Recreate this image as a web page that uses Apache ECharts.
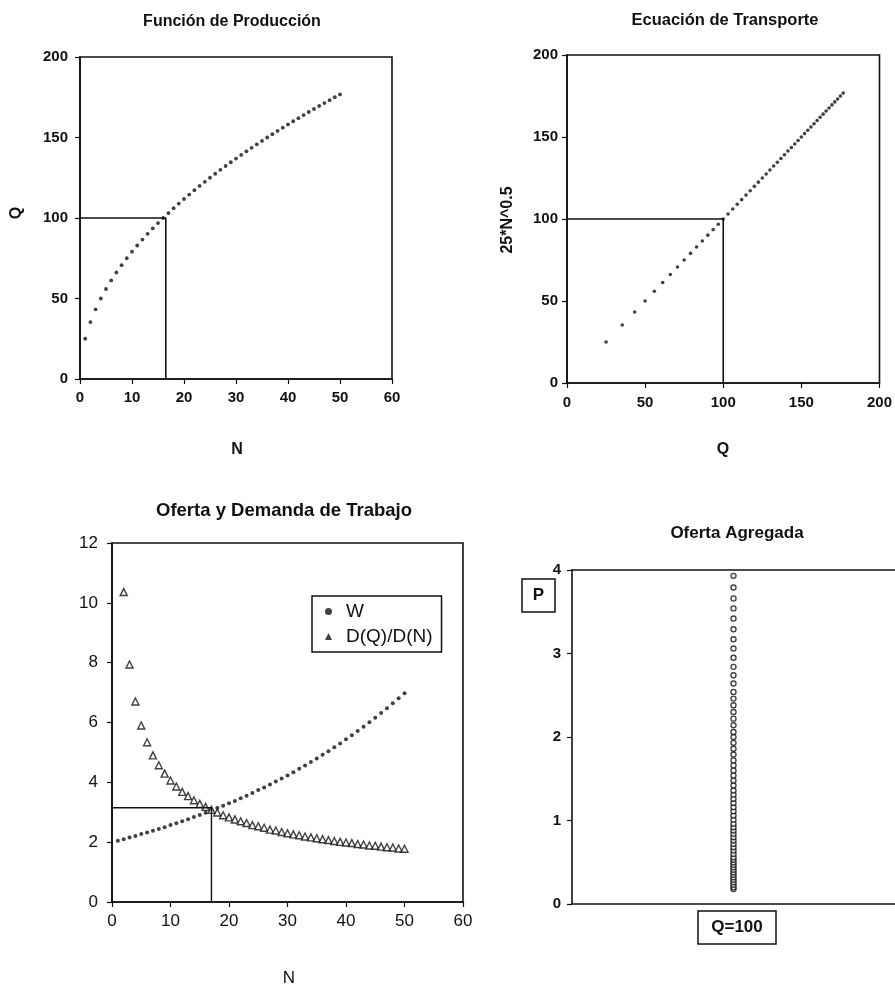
<!DOCTYPE html>
<html>
<head>
<meta charset="utf-8">
<script src="https://cdn.jsdelivr.net/npm/echarts@6/dist/echarts.min.js"></script>
<style>
html,body{margin:0;padding:0;background:#fff;}
#chart{width:895px;height:987px;}
</style>
</head>
<body>
<div id="chart"></div>
<script>
// ---- data ----
const nVals = [1,2,3,4,5,6,7,8,9,10,11,12,13,14,15,16,17,18,19,20,21,22,23,24,25,26,27,28,29,30,31,32,33,34,35,36,37,38,39,40,41,42,43,44,45,46,47,48,49,50];
const qVals = [25,35.36,43.3,50,55.9,61.24,66.14,70.71,75,79.06,82.92,86.6,90.14,93.54,96.82,100,103.08,106.07,108.97,111.8,114.56,117.26,119.9,122.47,125,127.48,129.9,132.29,134.63,136.93,139.19,141.42,143.61,145.77,147.9,150,152.07,154.11,156.12,158.11,160.08,162.02,163.94,165.83,167.71,169.56,171.39,173.21,175,176.78];
const transpVals = [25,35.36,43.3,50,55.9,61.24,66.14,70.71,75,79.06,82.92,86.6,90.14,93.54,96.82,100,103.08,106.07,108.97,111.8,114.56,117.26,119.9,122.47,125,127.48,129.9,132.29,134.63,136.93,139.19,141.42,143.61,145.77,147.9,150,152.07,154.11,156.12,158.11,160.08,162.02,163.94,165.83,167.71,169.56,171.39,173.21,175,176.78];
const wVals = [2.05,2.1,2.16,2.21,2.27,2.32,2.38,2.44,2.5,2.57,2.63,2.7,2.77,2.84,2.91,2.98,3.06,3.14,3.22,3.3,3.38,3.47,3.55,3.64,3.74,3.83,3.93,4.03,4.13,4.23,4.34,4.45,4.56,4.68,4.8,4.92,5.04,5.17,5.3,5.44,5.57,5.72,5.86,6.01,6.16,6.32,6.48,6.64,6.81,6.98];
const mpnN = [2,3,4,5,6,7,8,9,10,11,12,13,14,15,16,17,18,19,20,21,22,23,24,25,26,27,28,29,30,31,32,33,34,35,36,37,38,39,40,41,42,43,44,45,46,47,48,49,50];
const mpnVals = [10.36,7.94,6.7,5.9,5.34,4.9,4.57,4.29,4.06,3.86,3.68,3.54,3.4,3.28,3.18,3.08,2.99,2.9,2.83,2.76,2.7,2.64,2.57,2.53,2.48,2.42,2.39,2.34,2.3,2.26,2.23,2.19,2.16,2.13,2.1,2.07,2.04,2.01,1.99,1.97,1.94,1.92,1.89,1.88,1.85,1.83,1.82,1.79,1.78];
const pVals = [0.18,0.20,0.23,0.26,0.29,0.32,0.35,0.38,0.41,0.44,0.47,0.50,0.53,0.56,0.60,0.64,0.68,0.72,0.76,0.80,0.84,0.88,0.92,0.96,1.01,1.06,1.11,1.16,1.21,1.26,1.31,1.36,1.42,1.48,1.54,1.60,1.66,1.72,1.79,1.86,1.93,2.00,2.06,2.14,2.22,2.30,2.38,2.46,2.54,2.64,2.74,2.84,2.95,3.06,3.17,3.29,3.42,3.54,3.66,3.79,3.93];
const aggQ = 100;
const ref1 = [[0,100],[16.5,100],[16.5,0]];
const ref2 = [[0,100],[100,100],[100,0]];
const ref3 = [[0,3.15],[17,3.15],[17,0]];

const titles = ['Función de Producción','Ecuación de Transporte','Oferta y Demanda de Trabajo','Oferta Agregada'];
const legendNames = ['W','D(Q)/D(N)'];

// ---- styling ----
const FONT = "'Liberation Sans', Arial, Helvetica, sans-serif";
const INK = '#111';

function axis(gridIndex, min, max, interval, fontSize, weight, margin, extra) {
  return Object.assign({
    type: 'value', gridIndex, min, max, interval,
    axisLine: {show: true, onZero: false, lineStyle: {color: INK, width: 1.6}},
    axisTick: {show: true, inside: false, length: 5, lineStyle: {color: INK, width: 1.2}},
    splitLine: {show: false},
    axisLabel: {color: INK, fontFamily: FONT, fontSize, fontWeight: weight, margin}
  }, extra || {});
}

function txt(text, x, y, size, weight, rot) {
  return {type: 'text', x, y, rotation: rot || 0,
    style: {text, fill: INK, font: weight + ' ' + size + 'px ' + FONT, textAlign: 'center', textVerticalAlign: 'middle'}};
}

const chart = echarts.init(document.getElementById('chart'), null, {renderer: 'canvas'});

const gridBase = {show: true, borderColor: INK, borderWidth: 1.6, backgroundColor: 'transparent', containLabel: false};

const option = {
  backgroundColor: '#fff',
  animation: false,
  grid: [
    Object.assign({left: 80, top: 57, width: 312, height: 322}, gridBase),
    Object.assign({left: 567, top: 55, width: 314, height: 328}, gridBase),
    Object.assign({left: 112, top: 543, width: 351, height: 359}, gridBase),
    Object.assign({}, gridBase, {left: 572, top: 570, width: 330, height: 334, show: false})
  ],
  xAxis: [
    axis(0, 0, 60, 10, 15, 'bold', 11),
    axis(1, 0, 200, 50, 15, 'bold', 12),
    axis(2, 0, 60, 10, 17, 'normal', 11),
    axis(3, 99, 101, 1, 15, 'bold', 10, {axisTick: {show: false}, axisLabel: {show: false}}),
    axis(3, 99, 101, 1, 15, 'bold', 10, {position: 'top', axisTick: {show: false}, axisLabel: {show: false}})
  ],
  yAxis: [
    axis(0, 0, 200, 50, 15, 'bold', 12),
    axis(1, 0, 200, 50, 15, 'bold', 9),
    axis(2, 0, 12, 2, 17, 'normal', 14),
    axis(3, 0, 4, 1, 15, 'bold', 11)
  ],
  legend: {
    left: 312, top: 596, orient: 'vertical',
    padding: [5, 9, 5, 13], itemGap: 4, itemWidth: 7, itemHeight: 7,
    borderColor: INK, borderWidth: 1.5, backgroundColor: '#fff',
    textStyle: {color: INK, fontFamily: FONT, fontSize: 19, lineHeight: 21, padding: [0, 0, 0, 9]},
    data: [
      {name: legendNames[0], icon: 'circle', itemStyle: {color: INK, borderWidth: 0}},
      {name: legendNames[1], icon: 'triangle', itemStyle: {color: INK, borderWidth: 0}}
    ]
  },
  series: [
    {type: 'scatter', xAxisIndex: 0, yAxisIndex: 0, symbolSize: 3.8,
      itemStyle: {color: INK}, data: nVals.map((n, i) => [n, qVals[i]])},
    {type: 'line', xAxisIndex: 0, yAxisIndex: 0, symbol: 'none', silent: true,
      lineStyle: {color: INK, width: 1.6}, data: ref1},
    {type: 'scatter', xAxisIndex: 1, yAxisIndex: 1, symbolSize: 3.6,
      itemStyle: {color: INK}, data: qVals.map((q, i) => [q, transpVals[i]])},
    {type: 'line', xAxisIndex: 1, yAxisIndex: 1, symbol: 'none', silent: true,
      lineStyle: {color: INK, width: 1.6}, data: ref2},
    {type: 'line', xAxisIndex: 2, yAxisIndex: 2, symbol: 'none', silent: true,
      lineStyle: {color: INK, width: 1.4}, data: ref3},
    {name: legendNames[0], type: 'scatter', xAxisIndex: 2, yAxisIndex: 2, symbol: 'circle', symbolSize: 4,
      itemStyle: {color: INK}, data: nVals.map((n, i) => [n, wVals[i]])},
    {name: legendNames[1], type: 'scatter', xAxisIndex: 2, yAxisIndex: 2, symbol: 'triangle', symbolSize: 7,
      itemStyle: {color: '#fff', borderColor: INK, borderWidth: 1.4}, data: mpnN.map((n, i) => [n, mpnVals[i]])},
    {type: 'scatter', xAxisIndex: 3, yAxisIndex: 3, symbol: 'circle', symbolSize: 5,
      itemStyle: {color: '#fff', borderColor: INK, borderWidth: 1.4}, data: pVals.map(p => [aggQ, p])}
  ],
  graphic: [
    txt(titles[0], 232, 22, 16, 'bold'),
    txt(titles[1], 725, 20, 16.5, 'bold'),
    txt(titles[2], 284, 511, 18.5, 'bold'),
    txt(titles[3], 737, 533, 17, 'bold'),
    txt('Q', 17, 213, 16, 'bold', Math.PI / 2),
    txt('N', 237, 450, 16, 'bold'),
    txt('25*N^0.5', 508, 220, 16, 'bold', Math.PI / 2),
    txt('Q', 723, 450, 16, 'bold'),
    txt('N', 289, 978, 17, 'normal'),
    {type: 'rect', shape: {x: 522, y: 579, width: 33, height: 33}, style: {fill: '#fff', stroke: INK, lineWidth: 1.5}},
    txt('P', 538.5, 595.5, 17, 'bold'),
    {type: 'rect', shape: {x: 698, y: 911, width: 78, height: 33}, style: {fill: '#fff', stroke: INK, lineWidth: 1.5}},
    txt('Q=100', 737, 927.5, 17, 'bold')
  ]
};
chart.setOption(option);
</script>
</body>
</html>
